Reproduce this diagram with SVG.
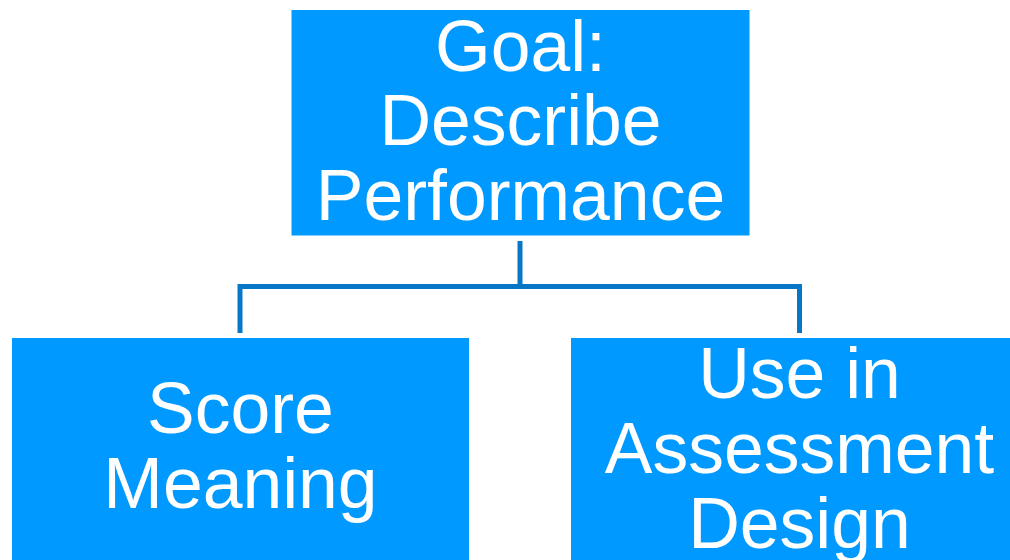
<svg xmlns="http://www.w3.org/2000/svg" width="1010" height="560" viewBox="0 0 1010 560">
  <style>
    .box { fill: #0099FF; }
    .label { fill: #FFFFFF; font-family: "Liberation Sans", Arial, sans-serif; font-size: 71.5px; text-anchor: middle; }
    .link { fill: none; stroke: #0677C6; stroke-width: 5; stroke-linejoin: miter; stroke-linecap: butt; }
  </style>
  <rect width="1010" height="560" fill="#FFFFFF"/>

  <!-- tree connectors -->
  <g id="connectors">
    <path class="link" d="M520 241 V286.5"/>
    <path class="link" d="M240 333 V286.5 H799.5 V333"/>
  </g>

  <!-- root node -->
  <g id="goal">
    <rect class="box" x="291.5" y="10" width="458" height="225.5"/>
    <text class="label" x="520.5" y="71">Goal:</text>
    <text class="label" x="520.5" y="145">Describe</text>
    <text class="label" x="520.5" y="220">Performance</text>
  </g>

  <!-- left child -->
  <g id="score-meaning">
    <rect class="box" x="12" y="338" width="457" height="240"/>
    <text class="label" x="240.5" y="433">Score</text>
    <text class="label" x="240.5" y="508">Meaning</text>
  </g>

  <!-- right child -->
  <g id="assessment-design">
    <rect class="box" x="571" y="338" width="457" height="240"/>
    <text class="label" x="799.5" y="398">Use in</text>
    <text class="label" x="799.5" y="473">Assessment</text>
    <text class="label" x="799.5" y="548">Design</text>
  </g>
</svg>
